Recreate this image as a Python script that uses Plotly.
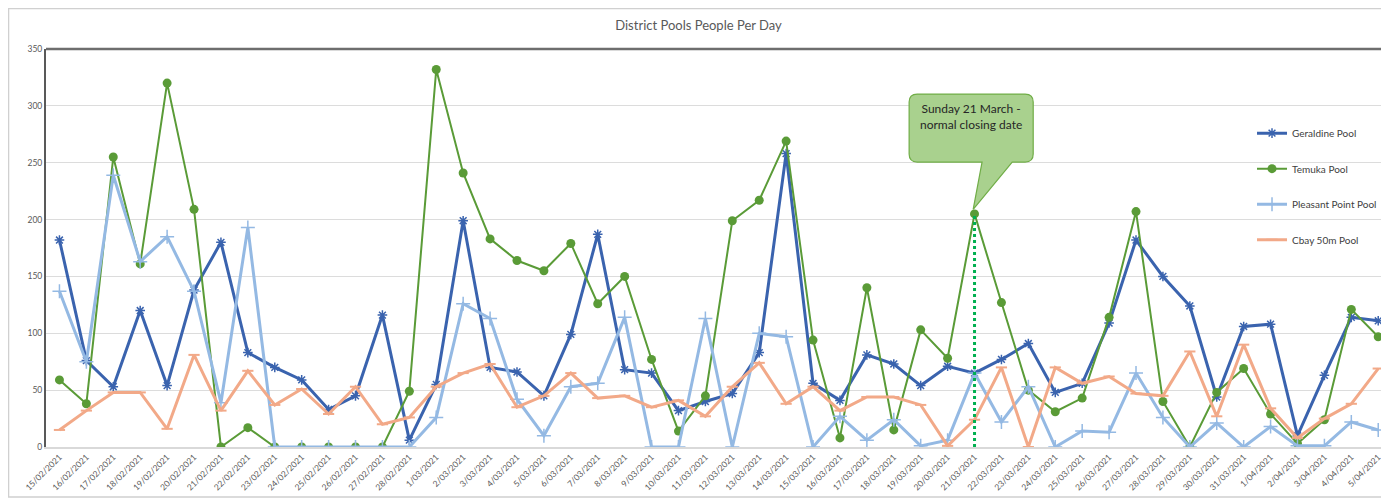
import plotly.graph_objects as go

dates = ["15/02/2021", "16/02/2021", "17/02/2021", "18/02/2021", "19/02/2021", "20/02/2021", "21/02/2021",
         "22/02/2021", "23/02/2021", "24/02/2021", "25/02/2021", "26/02/2021", "27/02/2021", "28/02/2021",
         "1/03/2021", "2/03/2021", "3/03/2021", "4/03/2021", "5/03/2021", "6/03/2021", "7/03/2021",
         "8/03/2021", "9/03/2021", "10/03/2021", "11/03/2021", "12/03/2021", "13/03/2021", "14/03/2021",
         "15/03/2021", "16/03/2021", "17/03/2021", "18/03/2021", "19/03/2021", "20/03/2021", "21/03/2021",
         "22/03/2021", "23/03/2021", "24/03/2021", "25/03/2021", "26/03/2021", "27/03/2021", "28/03/2021",
         "29/03/2021", "30/03/2021", "31/03/2021", "1/04/2021", "2/04/2021", "3/04/2021", "4/04/2021",
         "5/04/2021"]

geraldine = [182, 76, 53, 120, 54, 138, 180, 83, 70, 59, 33, 45, 116, 6, 55, 199,
             70, 66, 45, 99, 187, 68, 65, 32, 40, 47, 83, 258, 56, 41, 81, 73,
             54, 71, 65, 77, 91, 48, 56, 109, 182, 150, 124, 44, 106, 108, 10, 63, 114, 111]
temuka = [59, 38, 255, 161, 320, 209, 0, 17, 0, 0, 0, 0, 0, 49, 332, 241,
          183, 164, 155, 179, 126, 150, 77, 14, 45, 199, 217, 269, 94, 8, 140, 15,
          103, 78, 205, 127, 50, 31, 43, 114, 207, 40, 0, 48, 69, 29, 3, 24, 121, 97]
pleasant = [137, 75, 239, 163, 185, 137, 39, 193, 0, 0, 0, 0, 0, 0, 26, 126,
            113, 42, 10, 53, 56, 114, 0, 0, 113, 0, 100, 97, 0, 27, 6, 24,
            1, 6, 65, 22, 53, 0, 14, 13, 65, 26, 0, 21, 0, 18, 1, 1, 22, 15]
cbay = [15, 32, 48, 48, 16, 81, 32, 67, 37, 51, 29, 53, 20, 26, 53, 65,
        73, 35, 45, 65, 43, 45, 35, 41, 27, 53, 74, 38, 53, 32, 44, 44,
        37, 1, 24, 70, 0, 70, 56, 62, 47, 45, 84, 27, 90, 34, 8, 25, 38, 69]

closing_index = dates.index("21/03/2021")
idx = list(range(len(dates)))

FONT = "Lato, Open Sans, Liberation Sans"

series = [
    ("Geraldine Pool", geraldine, "#3A63AE", 3, dict(symbol="asterisk-open", size=8, line=dict(width=1.5, color="#3A63AE"))),
    ("Temuka Pool", temuka, "#5A9B37", 2, dict(symbol="circle", size=9, color="#5A9B37")),
    ("Pleasant Point Pool", pleasant, "#94B9E3", 3, dict(symbol="cross-thin-open", size=10, line=dict(width=1.5, color="#94B9E3"))),
    ("Cbay 50m Pool", cbay, "#F2A988", 3, dict(symbol="line-ew-open", size=8, line=dict(width=2, color="#F2A988"))),
]

fig = go.Figure()
for i, (name, vals, col, w, mk) in enumerate(series):
    fig.add_trace(go.Scatter(x=idx, y=vals, name=name, mode="lines+markers",
                             line=dict(color=col, width=w), marker=mk,
                             legendgroup=f"g{i}"))

# dotted vertical line at closing date
fig.add_trace(go.Scatter(x=[closing_index, closing_index], y=[0, temuka[closing_index]],
                         mode="lines", line=dict(color="#00B050", width=3, dash="dot"),
                         showlegend=False, hoverinfo="skip"))

# callout shape (data coordinates)
x0, x1 = 31.57, 36.18
y0, y1 = 250.6, 310.4
rx, ry = 0.3, 7
bx0, bx1 = 34.28, 35.4
tipx, tipy = closing_index - 0.05, 209
path = (f"M {x0+rx},{y1} L {x1-rx},{y1} Q {x1},{y1} {x1},{y1-ry} "
        f"L {x1},{y0+ry} Q {x1},{y0} {x1-rx},{y0} "
        f"L {bx1},{y0} L {tipx},{tipy} L {bx0},{y0} "
        f"L {x0+rx},{y0} Q {x0},{y0} {x0},{y0+ry} L {x0},{y1-ry} Q {x0},{y1} {x0+rx},{y1} Z")
fig.add_shape(type="path", path=path, xref="x", yref="y",
              fillcolor="#A9D18E", line=dict(color="#70AD47", width=1.2), layer="above")
fig.add_annotation(x=(x0 + x1) / 2, y=y1 - 4, xref="x", yref="y", yanchor="top",
                   text="Sunday 21 March -<br>normal closing date", showarrow=False,
                   font=dict(family=FONT, size=12, color="#262626"),
                   align="center")

# top border of plot area
fig.add_shape(type="line", xref="paper", yref="paper", x0=0, x1=1, y0=1, y1=1,
              line=dict(color="#6E6E6E", width=2.5))
# outer chart border (left, top, bottom)
fig.add_shape(type="rect", xref="paper", yref="paper", x0=-0.0279, x1=1.01, y0=-0.1256, y1=1.1018,
              line=dict(color="#D0D0D0", width=1.5), fillcolor="rgba(0,0,0,0)")

fig.update_layout(
    width=1381, height=491,
    margin=dict(l=38, r=0, t=41, b=52, autoexpand=False),
    paper_bgcolor="white", plot_bgcolor="white",
    title=dict(text="District Pools People Per Day", x=0.5, xanchor="center", y=0.965, yanchor="middle",
               font=dict(family=FONT, size=13, color="#595959")),
    legend=dict(x=0.898, y=0.825, xanchor="left", yanchor="top", bgcolor="rgba(0,0,0,0)",
                tracegroupgap=16.5, itemwidth=30,
                font=dict(family=FONT, size=10, color="#404040")),
    showlegend=True,
)
fig.update_xaxes(range=[-0.5, 49.4], tickmode="array", tickvals=idx, ticktext=dates,
                 tickangle=-45, tickfont=dict(family=FONT, size=8.5, color="#595959"),
                 showgrid=False, showline=True, linecolor="#D9D9D9", linewidth=1.5,
                 ticks="", zeroline=False, automargin=False)
fig.update_yaxes(range=[0, 350], tickvals=[0, 50, 100, 150, 200, 250, 300, 350],
                 tickfont=dict(family=FONT, size=8.5, color="#595959"),
                 showgrid=True, gridcolor="#DCDCDC", gridwidth=1,
                 showline=True, linecolor="#595959", linewidth=2, zeroline=False, ticks="",
                 automargin=False)

fig.write_html("out.html")
